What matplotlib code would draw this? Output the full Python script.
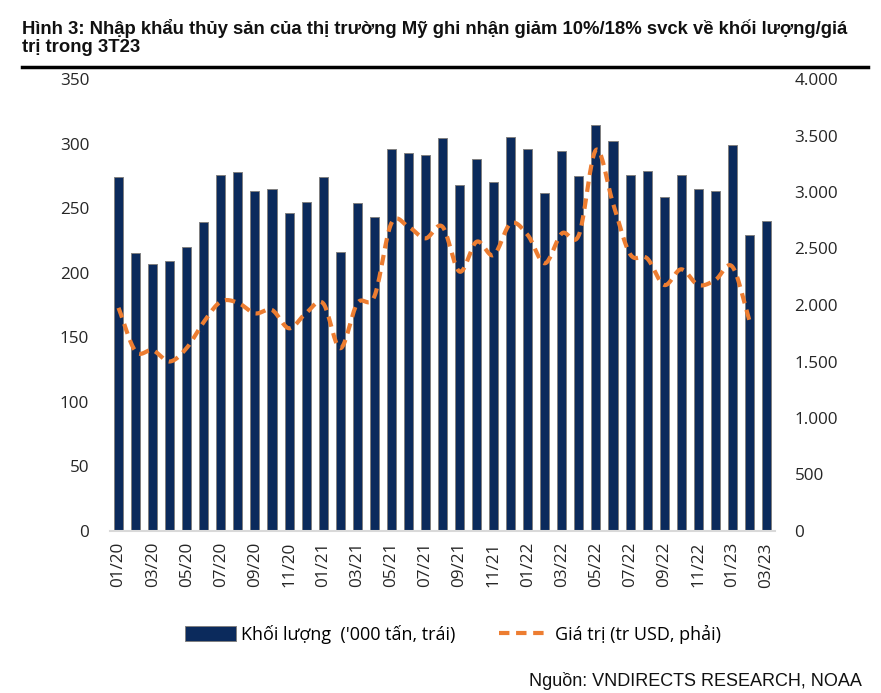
import numpy as np
import matplotlib
matplotlib.use("Agg")
import matplotlib.pyplot as plt
from matplotlib.lines import Line2D
from matplotlib.patches import Patch

months = ["01/20","02/20","03/20","04/20","05/20","06/20","07/20","08/20","09/20","10/20","11/20","12/20",
          "01/21","02/21","03/21","04/21","05/21","06/21","07/21","08/21","09/21","10/21","11/21","12/21",
          "01/22","02/22","03/22","04/22","05/22","06/22","07/22","08/22","09/22","10/22","11/22","12/22",
          "01/23","02/23","03/23"]
volume = [274, 215, 207, 209, 220, 239, 276, 278, 263, 265, 246, 255,
          274, 216, 254, 243, 296, 293, 291, 304, 268, 288, 270, 305,
          296, 262, 294, 275, 314, 302, 276, 279, 259, 276, 265, 263,
          299, 229, 240]
value = [1975, 1590, 1600, 1500, 1620, 1850, 2030, 2020, 1926, 1956, 1794, 1929,
         2015, 1617, 2015, 2074, 2723, 2693, 2590, 2693, 2295, 2560, 2442, 2723,
         2619, 2369, 2634, 2620, 3372, 2900, 2451, 2413, 2177, 2316, 2177, 2221,
         2339, 1861]

left_ticks = [0, 50, 100, 150, 200, 250, 300, 350]
right_ticks = [0, 500, 1000, 1500, 2000, 2500, 3000, 3500, 4000]
right_labels = ["0", "500", "1.000", "1.500", "2.000", "2.500", "3.000", "3.500", "4.000"]

title = "Hình 3: Nhập khẩu thủy sản của thị trường Mỹ ghi nhận giảm 10%/18% svck về khối lượng/giá\ntrị trong 3T23"
source = "Nguồn: VNDIRECTS RESEARCH, NOAA"

NAVY = "#0b2a5c"
ORANGE = "#ed7d31"
TFONT = "Open Sans"
TCOL = "#262626"

def catmull_rom(x, y, n=20):
    x = np.asarray(x, float); y = np.asarray(y, float)
    px = np.concatenate([[2*x[0]-x[1]], x, [2*x[-1]-x[-2]]])
    py = np.concatenate([[2*y[0]-y[1]], y, [2*y[-1]-y[-2]]])
    xs, ys = [], []
    t = np.linspace(0, 1, n, endpoint=False)
    for i in range(1, len(px)-2):
        def cr(a0, a1, a2, a3):
            return 0.5*((2*a1) + (-a0+a2)*t + (2*a0-5*a1+4*a2-a3)*t**2 + (-a0+3*a1-3*a2+a3)*t**3)
        xs.append(cr(px[i-1], px[i], px[i+1], px[i+2]))
        ys.append(cr(py[i-1], py[i], py[i+1], py[i+2]))
    xs.append([x[-1]]); ys.append([y[-1]])
    return np.concatenate(xs), np.concatenate(ys)

fig = plt.figure(figsize=(8.81, 6.93), dpi=100)
ax = fig.add_axes([110/881, 1-531/693, 665/881, 452/693])
ax2 = ax.twinx()

x = np.arange(len(months))
ax.bar(x, volume, width=0.53, color=NAVY, edgecolor="#808080", linewidth=0.7, zorder=2)
ax.set_xlim(-0.5, len(months)-0.5)
ax.set_ylim(0, 350)
ax.set_yticks(left_ticks)
ax.set_yticklabels([str(v) for v in left_ticks], fontfamily=TFONT, fontsize=12.3, color=TCOL)
ax.set_xticks(x[::2])
ax.set_xticklabels(months[::2], rotation=90, fontfamily=TFONT, fontsize=12.3, color=TCOL)
ax.tick_params(axis="both", length=0, pad=8)
ax.tick_params(axis="y", pad=15)
for s in ["top", "left", "right"]:
    ax.spines[s].set_visible(False)
ax.spines["bottom"].set_color("#d9d9d9")
ax.spines["bottom"].set_linewidth(1.5)

sx, sy = catmull_rom(np.arange(len(value)), value)
ax2.plot(sx, sy, color=ORANGE, linewidth=3, dashes=(2.5, 1.6), zorder=3)
ax2.set_ylim(0, 4000)
ax2.set_yticks(right_ticks)
ax2.set_yticklabels(right_labels, fontfamily=TFONT, fontsize=12.3, color=TCOL)
ax2.tick_params(axis="y", length=0, pad=14)
for s in ["top", "left", "right", "bottom"]:
    ax2.spines[s].set_visible(False)

fig.text(22/881, 1-37.5/693, title, fontfamily="Liberation Sans", fontweight="bold", fontsize=13.3,
         va="center", ha="left", linespacing=1.12, color="#111111")
fig.add_artist(Line2D([22/881, 868/881], [1-67/693, 1-67/693], color="black", linewidth=2.5))

handles = [Patch(facecolor=NAVY, edgecolor="#808080", linewidth=0.7),
           Line2D([0], [0], color=ORANGE, linewidth=3, dashes=(2.5, 1.6))]
labels = ["Khối lượng  ('000 tấn, trái)", "Giá trị (tr USD, phải)"]
fig.legend(handles, labels, loc="center", bbox_to_anchor=(453/881, 1-634/693), ncol=2, frameon=False,
           prop={"family": TFONT, "size": 13}, handlelength=2.8, handleheight=0.9,
           handletextpad=0.3, columnspacing=2.4)

fig.text(862/881, 1-681/693, source, fontfamily="Liberation Sans", fontsize=13, ha="right", va="center",
         color="#111111")

fig.savefig("out.png", dpi=100)
